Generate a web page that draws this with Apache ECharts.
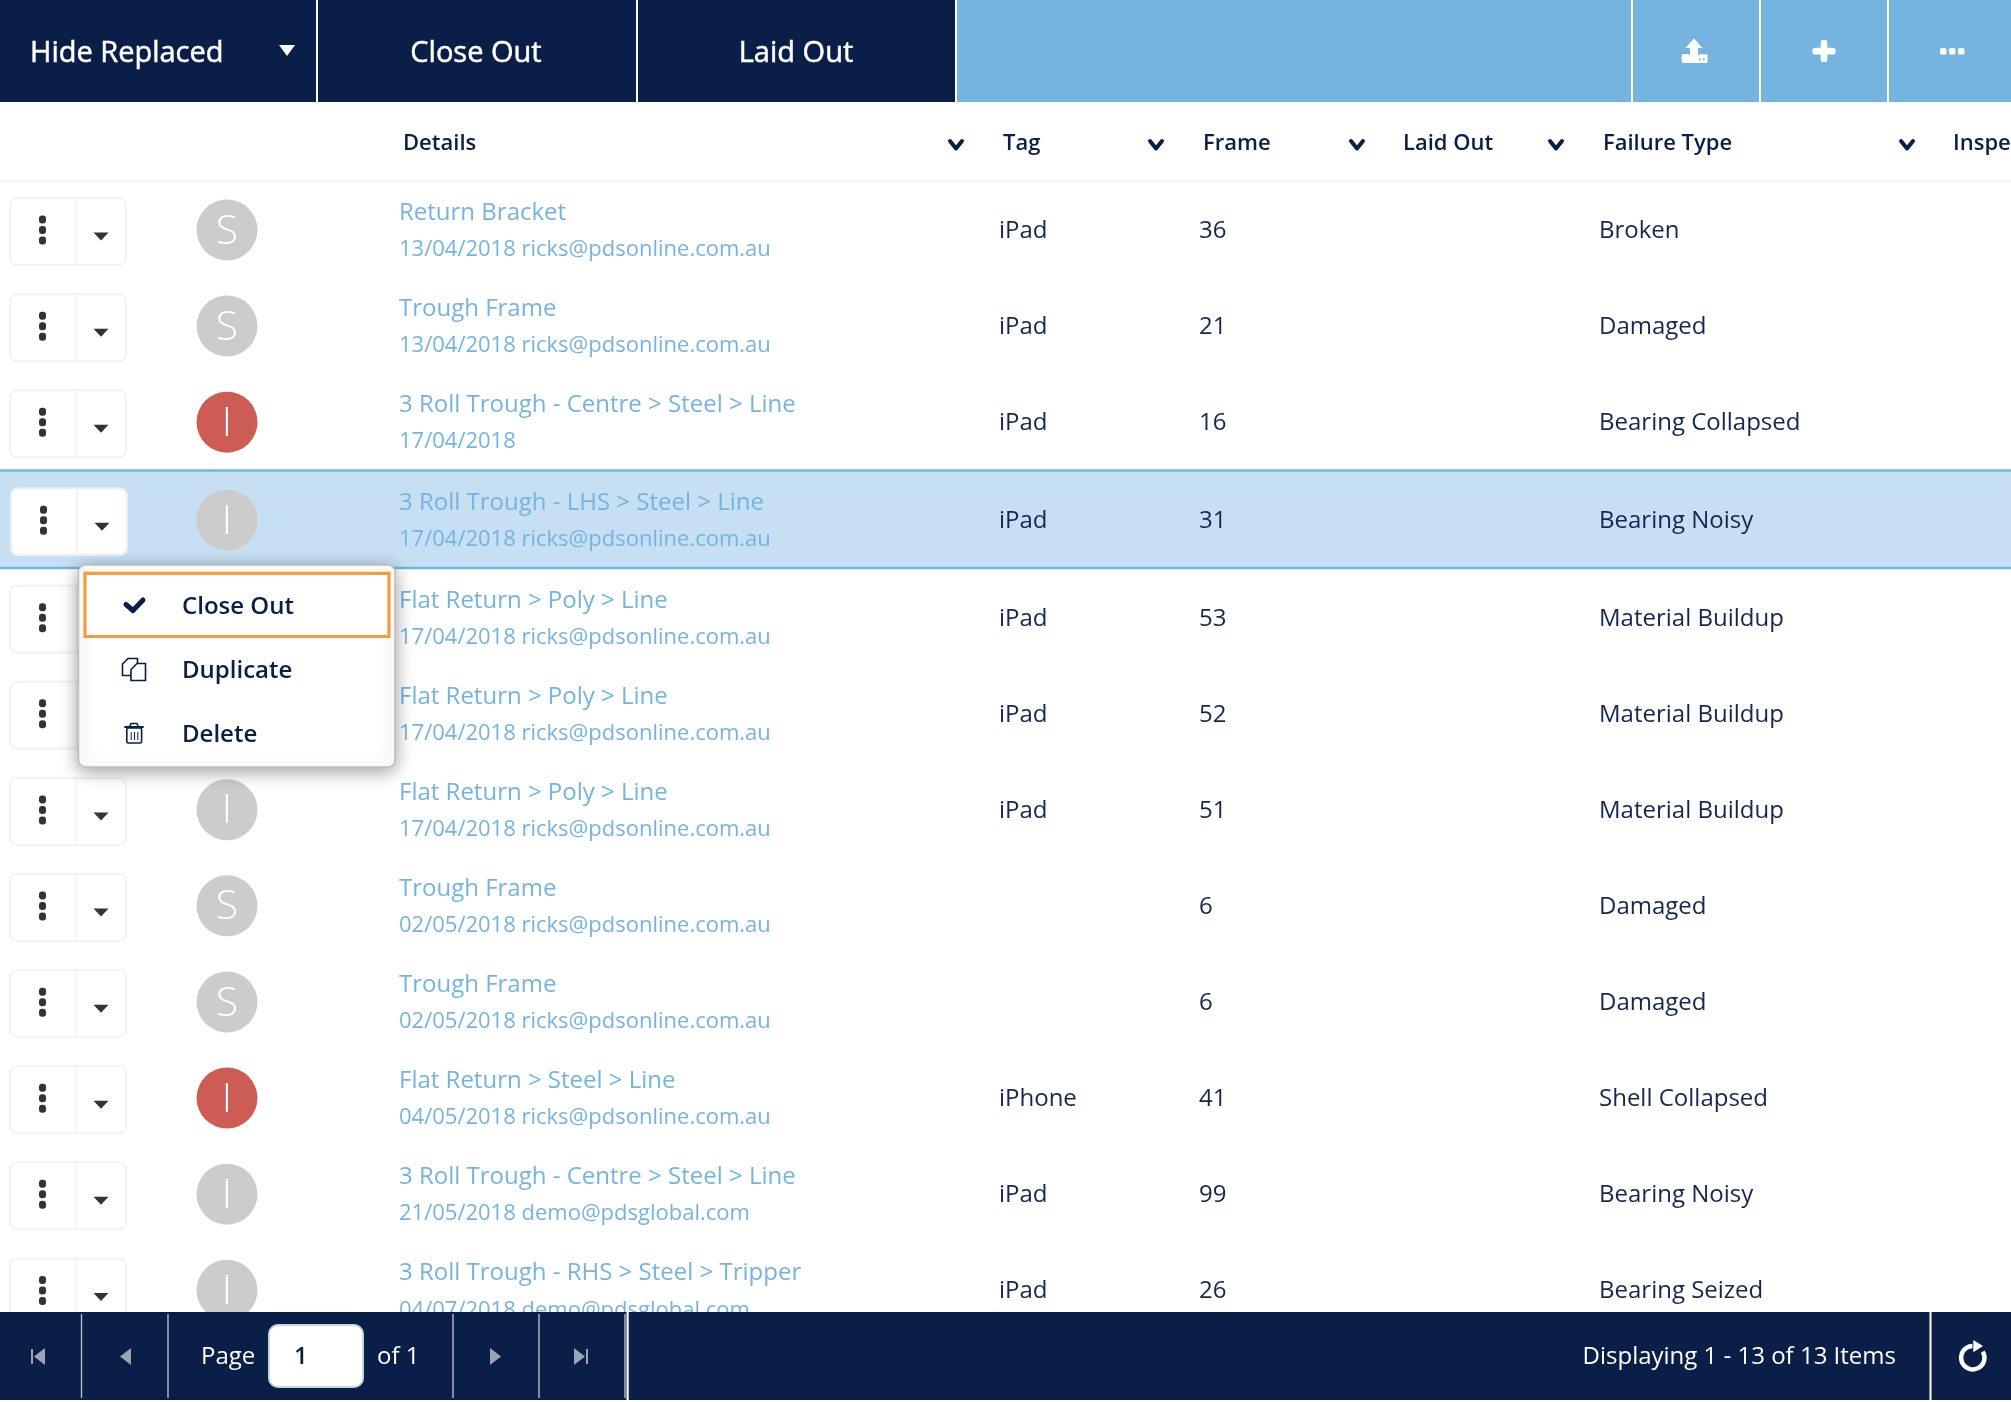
<!DOCTYPE html>
<html>
<head>
<meta charset="UTF-8">
<title>Inspection list</title>
<script src="https://cdn.jsdelivr.net/npm/echarts@6/dist/echarts.min.js"></script>
<style>
html,body{margin:0;padding:0;background:#fff;overflow:hidden}
#main{width:2011px;height:1402px}
</style>
</head>
<body>
<div id="main"></div>
<script type="text/javascript">
// table data
var rowTitles = ['Return Bracket','Trough Frame','3 Roll Trough - Centre > Steel > Line','3 Roll Trough - LHS > Steel > Line','Flat Return > Poly > Line','Flat Return > Poly > Line','Flat Return > Poly > Line','Trough Frame','Trough Frame','Flat Return > Steel > Line','3 Roll Trough - Centre > Steel > Line','3 Roll Trough - RHS > Steel > Tripper'];
var rowSubtitles = ['13/04/2018 ricks@pdsonline.com.au','13/04/2018 ricks@pdsonline.com.au','17/04/2018','17/04/2018 ricks@pdsonline.com.au','17/04/2018 ricks@pdsonline.com.au','17/04/2018 ricks@pdsonline.com.au','17/04/2018 ricks@pdsonline.com.au','02/05/2018 ricks@pdsonline.com.au','02/05/2018 ricks@pdsonline.com.au','04/05/2018 ricks@pdsonline.com.au','21/05/2018 demo@pdsglobal.com','04/07/2018 demo@pdsglobal.com'];
var rowTags = ['iPad','iPad','iPad','iPad','iPad','iPad','iPad','','','iPhone','iPad','iPad'];
var rowFrames = [36,21,16,31,53,52,51,6,6,41,99,26];
var rowFailures = ['Broken','Damaged','Bearing Collapsed','Bearing Noisy','Material Buildup','Material Buildup','Material Buildup','Damaged','Damaged','Shell Collapsed','Bearing Noisy','Bearing Seized'];
var rowLetters = ['S','S','I','I','I','I','I','S','S','I','I','I'];
var rowAlerts = [0,0,1,0,0,0,0,0,0,1,0,0];
var selectedRow = 3;
var headerLabels = ['Details','Tag','Frame','Laid Out','Failure Type','Inspe'];
var menuLabels = ['Close Out','Duplicate','Delete'];
var toolbarLabels = ['Hide Replaced','Close Out','Laid Out'];
var pagerText = ['Page','1','of 1','Displaying 1 - 13 of 13 Items'];

var NAVY = '#0a1f47', BLUE = '#75b3e1', PALE = '#c6dff2', INK = '#14284f', FONT = '"Open Sans"';

function txt(s, x, y, size, fill, align, weight) {
    return {type:'text', style:{text:s, x:x, y:y+2.2, fill:fill, textAlign:align||'left', textVerticalAlign:'middle',
        font:(weight||400)+' '+size+'px '+FONT}};
}
function boldish(el) {
    el.style.stroke = el.style.fill;
    el.style.lineWidth = 0.5;
    return el;
}
function box(x, y, w, h, fill, r, stroke, lw) {
    return {type:'rect', shape:{x:x, y:y, width:w, height:h, r:r||0}, style:{fill:fill, stroke:stroke||null, lineWidth:lw||0}};
}
function poly(points, fill) {
    return {type:'polygon', shape:{points:points}, style:{fill:fill}};
}
function stroke(points, color, lw) {
    return {type:'polyline', shape:{points:points}, style:{stroke:color, lineWidth:lw, fill:null, lineCap:'round', lineJoin:'round'}};
}

// one table row, positioned from the axes
function renderRow(params, api) {
    var i = api.value(0);
    var cy = api.coord([0, i])[1] + (i < selectedRow ? -0.5 : i === selectedRow ? 2 : 3.3);
    var sel = i === selectedRow;
    var kids = [];
    if (sel) {
        kids.push(box(0, cy-49, 2011, 98, PALE));
        kids.push(box(0, cy-50, 2011, 2.5, BLUE));
        kids.push(box(0, cy+47.5, 2011, 2.5, BLUE));
    }
    var bx = sel ? 11 : 10, by = cy + (i < selectedRow ? 3 : 2.5);
    kids.push(box(bx, by-33.5, 116, 67, '#fff', 7, sel ? '#e9f0f6' : '#f3f3f3', 2));
    kids.push(box(bx+65.5, by-33, 1.5, 66, sel ? '#eef2f6' : '#f3f3f3'));
    [-10.5, 0, 10.5].forEach(function (d) {
        kids.push(box(bx+29, by-3.5+d-2, 7, 8, '#333', 3));
    });
    kids.push(poly([[bx+83.5,by+1],[bx+98.5,by+1],[bx+91,by+9]], '#333'));
    var ay = cy + (i < selectedRow ? 1.4 : 0.8);
    kids.push({type:'circle', shape:{cx:227, cy:ay, r:30.5}, style:{fill:rowAlerts[i] ? '#cd5c54' : '#cccccc'}});
    kids.push(txt(rowLetters[i], 227, ay-0.3, 41, '#fff', 'center', 300));
    kids.push(txt(rowTitles[i], 399, cy-18, 24, BLUE));
    kids.push(txt(rowSubtitles[i], 399, cy+18.6, 22, BLUE));
    kids.push(txt(rowTags[i], api.coord([999,i])[0], cy, 24, INK));
    kids.push(txt(String(rowFrames[i]), api.coord([1199,i])[0], cy, 24, INK));
    kids.push(txt(rowFailures[i], api.coord([1599,i])[0], cy, 24, INK));
    return {type:'group', children:kids};
}

// toolbar, header row, pager and the open menu sit on top of the rows
var chrome = [];
chrome.push(box(0, 0, 2011, 102, BLUE));
chrome.push(box(0, 0, 957, 102, '#fff'));
chrome.push(box(0, 0, 316, 102, NAVY), box(318, 0, 318, 102, NAVY), box(638, 0, 317, 102, NAVY));
[1632, 1760, 1888].forEach(function (x) { chrome.push(box(x-1, 0, 2, 102, '#fff')); });
chrome.push(boldish(txt(toolbarLabels[0], 30, 52, 29, '#fff', 'left', 500)));
chrome.push(boldish(txt(toolbarLabels[1], 476, 52, 29, '#fff', 'center', 500)));
chrome.push(boldish(txt(toolbarLabels[2], 796, 52, 29, '#fff', 'center', 500)));
chrome.push(poly([[279,45],[295,45],[287,56]], '#fff'));
// upload
chrome.push(box(1681.6, 54, 26, 9, '#fff', 2));
chrome.push(box(1688.8, 50, 1.4, 5, BLUE), box(1698, 50, 1.4, 5, BLUE));
chrome.push(poly([[1694,38.5],[1702.5,48],[1698,48],[1698,58],[1690,58],[1690,48],[1685.5,48]], '#fff'));
chrome.push(box(1699, 58.4, 1.8, 2, BLUE), box(1702.8, 58.4, 1.8, 2, BLUE));
// plus, more
chrome.push(box(1812.5, 47.8, 23, 6.6, '#fff', 2), box(1820.7, 40, 6.6, 22, '#fff', 2));
[1940, 1949, 1958].forEach(function (x) { chrome.push(box(x, 48, 6.4, 6.4, '#fff', 1.5)); });

// header
chrome.push(box(0, 102, 2011, 78.5, '#fff'), box(0, 180, 2011, 2, '#f5f5f5'));
[403,1003,1203,1403,1603,1953].forEach(function (x, i) {
    chrome.push(txt(headerLabels[i], x, 142, 22, NAVY, 'left', 600));
});
[956,1156,1357,1556,1907].forEach(function (x) {
    chrome.push(stroke([[x-6,141],[x,148.5],[x+6,141]], NAVY, 4));
});

// context menu
chrome.push({type:'rect', shape:{x:78.5, y:565, width:316.5, height:202, r:7},
    style:{fill:'#fff', stroke:'#bdbdbd', lineWidth:1.5, shadowBlur:18, shadowColor:'rgba(0,0,0,0.38)', shadowOffsetY:4}});
chrome.push(box(85, 573.3, 304, 63.2, '#fff', 0, '#f59d3d', 3.2));
chrome.push(txt(menuLabels[0], 182, 605, 24, NAVY, 'left', 600));
chrome.push(txt(menuLabels[1], 182, 669, 24, NAVY, 'left', 600));
chrome.push(txt(menuLabels[2], 182, 733, 24, NAVY, 'left', 600));
chrome.push(stroke([[126,604.5],[133,610.5],[143,600]], NAVY, 5));
// duplicate icon
chrome.push({type:'polygon', shape:{points:[[128,658.5],[137.5,658.5],[137.5,675.5],[122.5,675.5],[122.5,664]]}, style:{fill:'#fff', stroke:NAVY, lineWidth:1.6}});
chrome.push({type:'polygon', shape:{points:[[137,663.5],[145.5,663.5],[145.5,680.5],[131,680.5],[131,669.5]]}, style:{fill:'#fff', stroke:NAVY, lineWidth:1.6}});
// trash icon
chrome.push(stroke([[125,727],[143,727]], NAVY, 1.8), stroke([[130,726],[131,723.5],[137,723.5],[138,726]], NAVY, 1.6));
chrome.push(box(126.8, 728, 14.8, 15, '#fff', 1.5, NAVY, 1.6));
[130.7,134,137.3].forEach(function (x) { chrome.push(box(x, 732, 1, 8, NAVY)); });

// pager
chrome.push(box(0, 1312, 2011, 90, '#fff'), box(0, 1312, 2011, 88, NAVY));
[81.5,168,453,539,625].forEach(function (x) { chrome.push(box(x-0.7, 1314, 1.4, 84, '#b4bbc8')); });
chrome.push(box(626.5, 1312, 2.2, 88, '#fff'), box(1929.5, 1312, 2, 88, '#fff'));
var GREY = '#9aa4b6';
chrome.push(box(31, 1349, 2, 15, GREY), poly([[45,1348],[45,1365],[34,1356.5]], GREY));
chrome.push(poly([[131,1348],[131,1365],[120,1356.5]], GREY));
chrome.push(poly([[490,1348],[490,1365],[501,1356.5]], GREY));
chrome.push(poly([[574,1348],[574,1365],[585,1356.5]], GREY), box(586, 1349, 2, 15, GREY));
chrome.push(txt(pagerText[0], 201, 1355, 24, '#fff'));
chrome.push(box(269, 1325, 94, 62, '#fff', 9, '#ccd2dc', 2));
chrome.push(txt(pagerText[1], 294, 1355, 24, NAVY, 'left', 600));
chrome.push(txt(pagerText[2], 377, 1355, 24, '#fff'));
chrome.push(txt(pagerText[3], 1896, 1355, 24, '#fff', 'right'));
// refresh ring, open at the upper right
chrome.push({type:'arc', shape:{cx:1972.8, cy:1357.7, r:11.7, startAngle:-0.55, endAngle:-1.6, clockwise:true},
    style:{stroke:'#fff', fill:null, lineWidth:4.4}});
chrome.push(poly([[1973.3,1340],[1983,1346],[1973.3,1352.3]], '#fff'));
chrome.forEach(function (el) { el.zlevel = 1; el.z = 100; });

var myChart = echarts.init(document.getElementById('main'));
myChart.setOption({
    animation: false,
    backgroundColor: '#fff',
    grid: {left: 0, right: 0, top: 181, height: 1153.2},
    xAxis: {type: 'value', min: 0, max: 2011, show: false},
    yAxis: {type: 'category', inverse: true, show: false, data: rowTitles},
    graphic: {elements: chrome},
    series: [{
        type: 'custom',
        silent: true,
        clip: false,
        z: 1,
        renderItem: renderRow,
        encode: {y: 0},
        data: rowTitles.map(function (t, i) { return [i]; })
    }]
});
</script>
</body>
</html>
